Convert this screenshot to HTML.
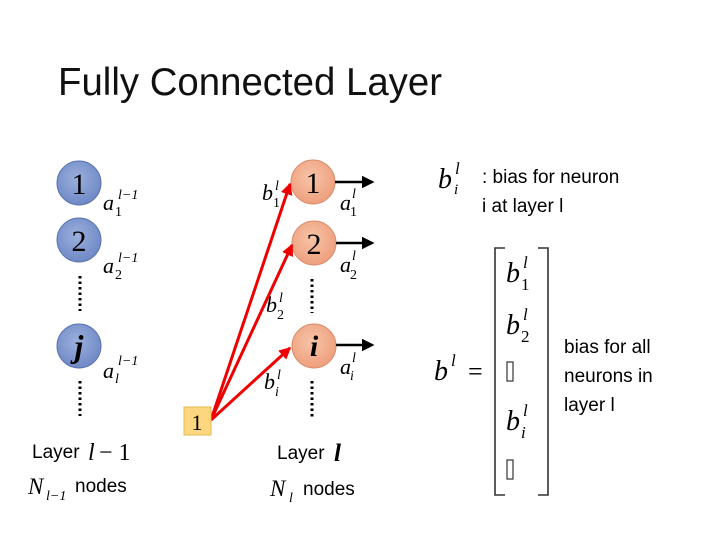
<!DOCTYPE html>
<html><head><meta charset="utf-8"><style>
html,body{margin:0;padding:0;background:#fff;}
svg{display:block}
.s{font-family:"Liberation Serif",serif;font-style:italic;}
.n{font-family:"Liberation Serif",serif;font-style:normal;}
.t{font-family:"Liberation Sans",sans-serif;font-style:normal;}
</style></head><body>
<svg width="720" height="540" viewBox="0 0 720 540" xmlns="http://www.w3.org/2000/svg">
<defs>
<radialGradient id="bg" cx="0.45" cy="0.4" r="0.6"><stop offset="0" stop-color="#9bb0dc"/><stop offset="1" stop-color="#6f89c6"/></radialGradient>
<radialGradient id="og" cx="0.45" cy="0.4" r="0.6"><stop offset="0" stop-color="#f7c4a8"/><stop offset="1" stop-color="#ee9f7d"/></radialGradient>
<marker id="ar" markerWidth="4" markerHeight="4" refX="3.5" refY="2" orient="auto" markerUnits="strokeWidth"><path d="M0,0 L4,2 L0,4 z" fill="#e00"/></marker>
<marker id="ak" markerWidth="5" markerHeight="5" refX="4" refY="2.5" orient="auto" markerUnits="strokeWidth"><path d="M0,0 L5,2.5 L0,5 z" fill="#000"/></marker>
</defs>
<text x="58" y="95" class="t" font-size="39" textLength="384" lengthAdjust="spacingAndGlyphs" fill="#111">Fully Connected Layer</text>

<g stroke="#5a73b0" stroke-width="1">
<circle cx="79" cy="183" r="22" fill="url(#bg)"/>
<circle cx="79" cy="240" r="22" fill="url(#bg)"/>
<circle cx="79" cy="346" r="22" fill="url(#bg)"/>
</g>
<text x="79" y="194" class="n" font-size="30" text-anchor="middle">1</text>
<text x="79" y="251" class="n" font-size="30" text-anchor="middle">2</text>
<text x="79" y="357" class="s" font-size="32" font-weight="bold" text-anchor="middle">j</text>
<g stroke="#000" stroke-width="3" stroke-dasharray="2.5,3">
<line x1="80" y1="276" x2="80" y2="311"/>
<line x1="80" y1="381" x2="80" y2="416"/>
<line x1="312" y1="279" x2="312" y2="313"/>
<line x1="312" y1="381" x2="312" y2="418"/>
</g>
<g class="s" font-size="22">
<text x="103" y="210">a</text><text x="118" y="199" font-size="14">l−1</text><text x="115" y="216" font-size="14" class="n">1</text>
<text x="103" y="273">a</text><text x="118" y="262" font-size="14">l−1</text><text x="115" y="279" font-size="14" class="n">2</text>
<text x="103" y="378">a</text><text x="118" y="365" font-size="14">l−1</text><text x="115" y="383" font-size="14">l</text>
</g>

<g stroke="#d98d6c" stroke-width="1">
<circle cx="313" cy="182" r="22" fill="url(#og)"/>
<circle cx="314" cy="243" r="22" fill="url(#og)"/>
<circle cx="314" cy="346" r="22" fill="url(#og)"/>
</g>
<text x="313" y="193" class="n" font-size="30" text-anchor="middle">1</text>
<text x="314" y="254" class="n" font-size="30" text-anchor="middle">2</text>
<text x="314" y="356" class="s" font-size="30" font-weight="bold" text-anchor="middle">i</text>
<g stroke="#000" stroke-width="2.5">
<line x1="335" y1="182" x2="372" y2="182" marker-end="url(#ak)"/>
<line x1="336" y1="243" x2="372" y2="243" marker-end="url(#ak)"/>
<line x1="336" y1="345" x2="372" y2="345" marker-end="url(#ak)"/>
</g>
<g class="s" font-size="22">
<text x="340" y="210">a</text><text x="352" y="198" font-size="14">l</text><text x="350" y="216" font-size="14" class="n">1</text>
<text x="340" y="272">a</text><text x="352" y="260" font-size="14">l</text><text x="350" y="279" font-size="14" class="n">2</text>
<text x="340" y="374">a</text><text x="352" y="362" font-size="14">l</text><text x="350" y="380" font-size="14">i</text>
<text x="262" y="200">b</text><text x="275" y="190" font-size="14">l</text><text x="273" y="207" font-size="14" class="n">1</text>
<text x="266" y="312">b</text><text x="279" y="302" font-size="14">l</text><text x="277" y="319" font-size="14" class="n">2</text>
<text x="264" y="389">b</text><text x="277" y="379" font-size="14">l</text><text x="275" y="396" font-size="14">i</text>
</g>

<g stroke="#e00" stroke-width="3" fill="none">
<line x1="211" y1="420" x2="290" y2="184" marker-end="url(#ar)"/>
<line x1="211" y1="420" x2="292" y2="245" marker-end="url(#ar)"/>
<line x1="211" y1="420" x2="290" y2="348" marker-end="url(#ar)"/>
</g>
<rect x="184" y="407" width="27" height="28" fill="#fcd77f" stroke="#e6b84e" stroke-width="1"/>
<text x="197" y="430" class="n" font-size="22" text-anchor="middle">1</text>

<text x="32" y="458" class="t" font-size="19">Layer</text>
<text x="88" y="460" class="s" font-size="24">l</text><text x="99" y="460" class="n" font-size="24">− 1</text>
<text x="28" y="494" class="s" font-size="23">N</text><text x="46" y="500" class="s" font-size="14">l−1</text>
<text x="75" y="492" class="t" font-size="19">nodes</text>
<text x="277" y="459" class="t" font-size="19">Layer</text>
<text x="334" y="461" class="s" font-size="25" font-weight="bold">l</text>
<text x="270" y="496" class="s" font-size="23">N</text><text x="289" y="502" class="s" font-size="14">l</text>
<text x="303" y="495" class="t" font-size="19">nodes</text>

<text x="438" y="188" class="s" font-size="28">b</text><text x="455" y="174" class="s" font-size="17">l</text><text x="454" y="194" class="s" font-size="15">i</text>
<text x="482" y="183" class="t" font-size="19">: bias for neuron</text>
<text x="482" y="212" class="t" font-size="19">i at layer l</text>

<text x="434" y="380" class="s" font-size="28">b</text><text x="451" y="366" class="s" font-size="17">l</text>
<text x="468" y="380" class="n" font-size="26">=</text>
<path d="M505,248 H495 V495 H505" stroke="#333" stroke-width="1.6" fill="none"/>
<path d="M538,248 H548 V495 H538" stroke="#333" stroke-width="1.6" fill="none"/>
<g class="s" font-size="28">
<text x="506" y="282">b</text><text x="523" y="268" font-size="17">l</text><text x="521" y="290" font-size="17" class="n">1</text>
<text x="506" y="334">b</text><text x="523" y="320" font-size="17">l</text><text x="521" y="342" font-size="17" class="n">2</text>
<text x="506" y="430">b</text><text x="523" y="416" font-size="17">l</text><text x="521" y="438" font-size="17">i</text>
</g>
<rect x="507" y="362" width="6" height="19" fill="none" stroke="#333" stroke-width="1.2"/>
<rect x="507" y="460" width="6" height="19" fill="none" stroke="#333" stroke-width="1.2"/>
<text x="564" y="353" class="t" font-size="19">bias for all</text>
<text x="564" y="382" class="t" font-size="19">neurons in</text>
<text x="564" y="411" class="t" font-size="19">layer l</text>
</svg>
</body></html>
